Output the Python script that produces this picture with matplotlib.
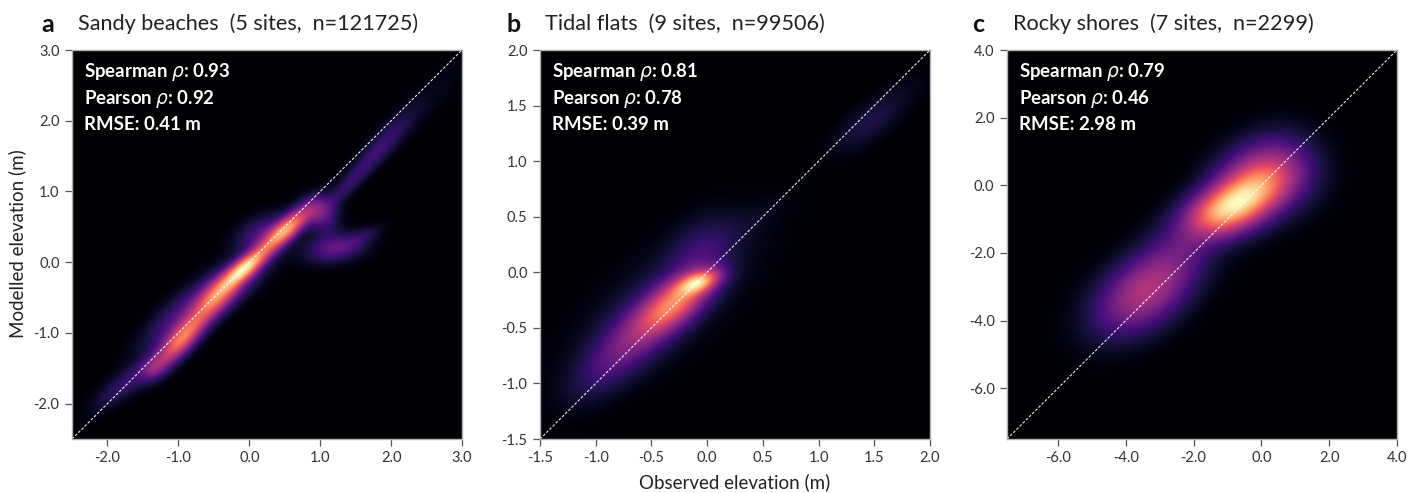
import matplotlib
matplotlib.use('Agg')
import matplotlib.pyplot as plt
from matplotlib.colors import PowerNorm
import numpy as np

plt.rcParams['font.family'] = ['Lato', 'DejaVu Sans']
plt.rcParams['mathtext.fontset'] = 'dejavusans'

W, H = 1421, 493

letters = ['a', 'b', 'c']
titles = ['Sandy beaches  (5 sites,  n=121725)',
          'Tidal flats  (9 sites,  n=99506)',
          'Rocky shores  (7 sites,  n=2299)']
spearman = [0.93, 0.81, 0.79]
pearson = [0.92, 0.78, 0.46]
rmse = [0.41, 0.39, 2.98]

limits = [(-2.5, 3.0), (-1.5, 2.0), (-7.5, 4.0)]
ticks = [[-2.0, -1.0, 0.0, 1.0, 2.0, 3.0],
         [-1.5, -1.0, -0.5, 0.0, 0.5, 1.0, 1.5, 2.0],
         [-6.0, -4.0, -2.0, 0.0, 2.0, 4.0]]

# density blobs: centre x, centre y, long sd, short sd, angle, weight
blobs_a = [(-0.05, -0.07, 0.26, 0.09, 40, 0.50),
           (0.52, 0.46, 0.30, 0.095, 42, 0.46),
           (-0.45, -0.47, 0.30, 0.13, 46, 0.38),
           (-0.95, -1.08, 0.34, 0.115, 48, 0.42),
           (-1.35, -1.50, 0.14, 0.10, 35, 0.11),
           (-1.75, -1.72, 0.36, 0.11, 38, 0.08),
           (-1.00, -0.75, 0.48, 0.15, 44, 0.10),
           (0.22, 0.40, 0.28, 0.16, 25, 0.12),
           (-0.10, -0.25, 0.40, 0.15, 40, 0.08),
           (1.22, 0.20, 0.28, 0.13, 10, 0.13),
           (1.60, 0.36, 0.20, 0.07, 25, 0.05),
           (0.98, 0.72, 0.16, 0.15, 0, 0.13),
           (1.10, 0.50, 0.14, 0.20, 0, 0.04),
           (1.40, 1.10, 0.38, 0.08, 48, 0.07),
           (1.90, 1.68, 0.40, 0.11, 48, 0.08),
           (2.50, 2.30, 0.45, 0.16, 45, 0.015)]
blobs_b = [(-0.08, -0.09, 0.13, 0.06, 20, 0.52),
           (-0.30, -0.28, 0.26, 0.12, 38, 0.52),
           (-0.65, -0.58, 0.30, 0.15, 42, 0.17),
           (-0.95, -0.88, 0.26, 0.13, 42, 0.07),
           (-0.08, 0.18, 0.24, 0.16, 55, 0.08),
           (0.28, 0.40, 0.30, 0.09, 30, 0.025),
           (-0.40, -0.28, 0.60, 0.25, 40, 0.08),
           (1.45, 1.35, 0.25, 0.10, 38, 0.07),
           (1.80, 1.65, 0.22, 0.10, 35, 0.012)]
blobs_c = [(-0.75, -0.52, 0.90, 0.46, 28, 0.64),
           (-0.10, 0.05, 0.95, 0.66, 40, 0.42),
           (-3.50, -3.20, 1.05, 0.64, 35, 0.42),
           (-2.40, -1.90, 1.00, 0.60, 45, 0.15),
           (0.70, 0.30, 0.78, 0.68, 0, 0.13),
           (-1.30, -0.85, 0.72, 0.44, 10, 0.24),
           (-0.50, 0.40, 0.90, 0.60, 30, 0.07)]
all_blobs = [blobs_a, blobs_b, blobs_c]

# axes boxes in pixels: left, right
ax_left = [72, 540, 1007]
ax_right = [462, 930, 1397]
ax_top, ax_bottom = 50, 439
letter_x = [48, 514, 978]
title_x = [78, 545, 1013]
inset_x = [84, 552, 1019]
inset_y = [77, 104, 130]


def density(blobs, lo, hi):
    g = np.linspace(lo, hi, 500)
    X, Y = np.meshgrid(g, g)
    Z = np.zeros_like(X)
    for cx, cy, s1, s2, ang, w in blobs:
        a = np.radians(ang)
        u = (X - cx) * np.cos(a) + (Y - cy) * np.sin(a)
        v = -(X - cx) * np.sin(a) + (Y - cy) * np.cos(a)
        Z += w * np.exp(-0.5 * ((u / s1) ** 2 + (v / s2) ** 2))
    return Z


fig = plt.figure(figsize=(W / 100, H / 100), dpi=100)

for i in range(3):
    lo, hi = limits[i]
    ax = fig.add_axes([ax_left[i] / W, 1 - ax_bottom / H,
                       (ax_right[i] - ax_left[i]) / W, (ax_bottom - ax_top) / H])
    Z = density(all_blobs[i], lo, hi)
    ax.imshow(Z, origin='lower', extent=[lo, hi, lo, hi], cmap='magma',
              norm=PowerNorm(0.8, vmin=0, vmax=Z.max() * 1.0), aspect='auto',
              interpolation='bilinear')
    ax.plot([lo, hi], [lo, hi], color='white', lw=0.8, ls=(0, (2.5, 1.5)), alpha=0.9)
    ax.set_xlim(lo, hi)
    ax.set_ylim(lo, hi)
    ax.set_xticks(ticks[i])
    ax.set_yticks(ticks[i])
    ax.set_xticklabels(['%.1f' % t for t in ticks[i]])
    ax.set_yticklabels(['%.1f' % t for t in ticks[i]])
    ax.tick_params(labelsize=10.5, colors='#333333', length=5, width=0.9, color='#555555', pad=4)
    for s in ax.spines.values():
        s.set_color('#b0b0b0')
        s.set_linewidth(1.0)

    lines = ['Spearman $\\rho$: %.2f' % spearman[i],
             'Pearson $\\rho$: %.2f' % pearson[i],
             'RMSE: %.2f m' % rmse[i]]
    for line, yy in zip(lines, inset_y):
        fig.text(inset_x[i] / W, 1 - yy / H, line, color='white', fontsize=13.4,
                 fontweight='bold', va='baseline', ha='left')

    fig.text(letter_x[i] / W, 1 - 24 / H, letters[i], fontsize=18, fontweight='bold',
             ha='center', va='center', color='#111111')
    fig.text(title_x[i] / W, 1 - 24 / H, titles[i], fontsize=15.6, ha='left', va='center',
             color='#222222')

fig.text(17 / W, 1 - 244 / H, 'Modelled elevation (m)', rotation=90, fontsize=13.5,
         ha='center', va='center', color='#222222')
fig.text(735 / W, 1 - 482 / H, 'Observed elevation (m)', fontsize=13.5,
         ha='center', va='center', color='#222222')

fig.savefig('out.png', dpi=100)
